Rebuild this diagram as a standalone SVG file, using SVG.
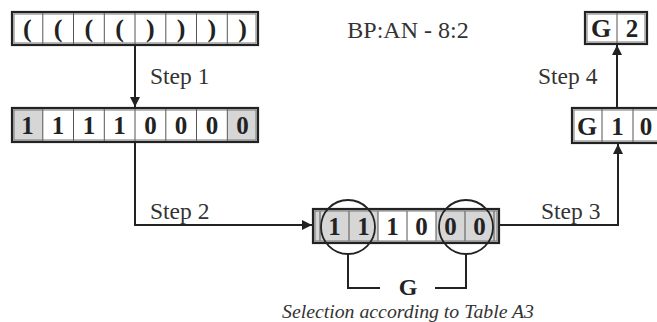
<svg xmlns="http://www.w3.org/2000/svg" width="657" height="322" viewBox="0 0 657 322">
  <defs>
    <marker id="arrow" viewBox="0 0 10 10" refX="10" refY="5" markerWidth="10" markerHeight="10" markerUnits="userSpaceOnUse" orient="auto">
      <path d="M0,0 L10,5 L0,10 Z" fill="#222"/>
    </marker>
    <style>
      .frame { fill: none; stroke: #222; stroke-width: 2.2; }
      .inner { fill: none; stroke: #777; stroke-width: 1; }
      .cell { stroke: #555; stroke-width: 1; }
      .shade { fill: #d6d6d6; }
      .glyph { font-family: 'Liberation Serif', Tinos, 'Times New Roman', Times, serif; font-weight: bold; font-size: 25px; fill: #222; text-anchor: middle; }
      .label { font-family: 'Liberation Serif', Tinos, 'Times New Roman', Times, serif; font-size: 23.5px; fill: #333; }
      .wire { fill: none; stroke: #222; stroke-width: 2; }
      .ring { fill: none; stroke: #222; stroke-width: 1.8; }
    </style>
  </defs>
  <rect width="657" height="322" fill="#fff"/>

  <!-- parenthesis string -->
  <g id="parens">
    <rect x="12" y="12" width="246" height="33" fill="#fff"/>
    <g class="cell">
      <line x1="42.8" y1="13" x2="42.8" y2="44"/>
      <line x1="73.5" y1="13" x2="73.5" y2="44"/>
      <line x1="104.3" y1="13" x2="104.3" y2="44"/>
      <line x1="135" y1="13" x2="135" y2="44"/>
      <line x1="165.8" y1="13" x2="165.8" y2="44"/>
      <line x1="196.5" y1="13" x2="196.5" y2="44"/>
      <line x1="227.3" y1="13" x2="227.3" y2="44"/>
    </g>
    <rect class="inner" x="14" y="14" width="242" height="29"/>
    <rect class="frame" x="12" y="12" width="246" height="33"/>
    <g class="glyph" style="font-size:26px">
      <text x="27.4" y="37">(</text>
      <text x="58.1" y="37">(</text>
      <text x="88.9" y="37">(</text>
      <text x="119.6" y="37">(</text>
      <text x="150.4" y="37">)</text>
      <text x="181.1" y="37">)</text>
      <text x="211.9" y="37">)</text>
      <text x="242.6" y="37">)</text>
    </g>
  </g>

  <!-- binary string -->
  <g id="bits">
    <rect x="12" y="108" width="246" height="34" fill="#fff"/>
    <rect class="shade" x="12" y="108" width="30.8" height="34"/>
    <rect class="shade" x="227.3" y="108" width="30.7" height="34"/>
    <g class="cell">
      <line x1="42.8" y1="109" x2="42.8" y2="141"/>
      <line x1="73.5" y1="109" x2="73.5" y2="141"/>
      <line x1="104.3" y1="109" x2="104.3" y2="141"/>
      <line x1="135" y1="109" x2="135" y2="141"/>
      <line x1="165.8" y1="109" x2="165.8" y2="141"/>
      <line x1="196.5" y1="109" x2="196.5" y2="141"/>
      <line x1="227.3" y1="109" x2="227.3" y2="141"/>
    </g>
    <rect class="inner" x="14" y="110" width="242" height="30"/>
    <rect class="frame" x="12" y="108" width="246" height="34"/>
    <g class="glyph">
      <text x="27.4" y="134">1</text>
      <text x="58.1" y="134">1</text>
      <text x="88.9" y="134">1</text>
      <text x="119.6" y="134">1</text>
      <text x="150.4" y="134">0</text>
      <text x="181.1" y="134">0</text>
      <text x="211.9" y="134">0</text>
      <text x="242.6" y="134">0</text>
    </g>
  </g>

  <!-- reduced string with selected ends -->
  <g id="reduced">
    <rect class="shade" x="313" y="209" width="186" height="34"/>
    <rect x="378" y="211" width="58" height="30" fill="#fff"/>
    <g class="cell">
      <line x1="320" y1="211" x2="320" y2="241"/>
      <line x1="349" y1="211" x2="349" y2="241"/>
      <line x1="378" y1="211" x2="378" y2="241"/>
      <line x1="407" y1="211" x2="407" y2="241"/>
      <line x1="436" y1="211" x2="436" y2="241"/>
      <line x1="465" y1="211" x2="465" y2="241"/>
      <line x1="494" y1="211" x2="494" y2="241"/>
    </g>
    <rect class="inner" x="315" y="211" width="182" height="30"/>
    <rect class="frame" x="313" y="209" width="186" height="34"/>
    <g class="glyph">
      <text x="334.5" y="235">1</text>
      <text x="363.5" y="235">1</text>
      <text x="392.5" y="235">1</text>
      <text x="421.5" y="235">0</text>
      <text x="450.5" y="235">0</text>
      <text x="479.5" y="235">0</text>
    </g>
    <circle class="ring" cx="348" cy="227" r="27"/>
    <circle class="ring" cx="466" cy="227" r="27"/>
  </g>

  <!-- group code with remaining value -->
  <g id="code">
    <rect x="572" y="108" width="93" height="35" fill="#fff"/>
    <g class="cell">
      <line x1="602" y1="109" x2="602" y2="142"/>
      <line x1="633" y1="109" x2="633" y2="142"/>
    </g>
    <rect class="inner" x="574" y="110" width="91" height="31"/>
    <rect class="frame" x="572" y="108" width="93" height="35"/>
    <g class="glyph">
      <text x="587" y="135" style="font-size:26px">G</text>
      <text x="617.5" y="135">1</text>
      <text x="646" y="135">0</text>
    </g>
  </g>

  <!-- final code -->
  <g id="final">
    <rect x="585" y="12" width="62" height="32" fill="#fff"/>
    <line class="cell" x1="617" y1="13" x2="617" y2="43"/>
    <rect class="inner" x="587" y="14" width="58" height="28"/>
    <rect class="frame" x="585" y="12" width="62" height="32"/>
    <g class="glyph">
      <text x="601" y="37" style="font-size:26px">G</text>
      <text x="632" y="37">2</text>
    </g>
  </g>

  <!-- selection bracket -->
  <g id="selection">
    <path class="wire" d="M348,254 V288 H380 M435,288 H466 V254"/>
    <text class="glyph" x="408" y="295" style="font-size:24px">G</text>
    <text class="label" x="408" y="318" text-anchor="middle" style="font-style:italic;font-size:19.8px">Selection according to Table A3</text>
  </g>

  <text id="title" class="label" x="408" y="38" text-anchor="middle" style="font-size:24px">BP:AN - 8:2</text>

  <g id="connectors">
    <path class="wire" d="M135,45 V107" marker-end="url(#arrow)"/>
    <path class="wire" d="M135,142 V225 H312" marker-end="url(#arrow)"/>
    <path class="wire" d="M499,225 H618 V144" marker-end="url(#arrow)"/>
    <path class="wire" d="M617,108 V45" marker-end="url(#arrow)"/>
    <text class="label" x="150" y="84">Step 1</text>
    <text class="label" x="150" y="219">Step 2</text>
    <text class="label" x="541" y="219">Step 3</text>
    <text class="label" x="538" y="84">Step 4</text>
  </g>
</svg>
